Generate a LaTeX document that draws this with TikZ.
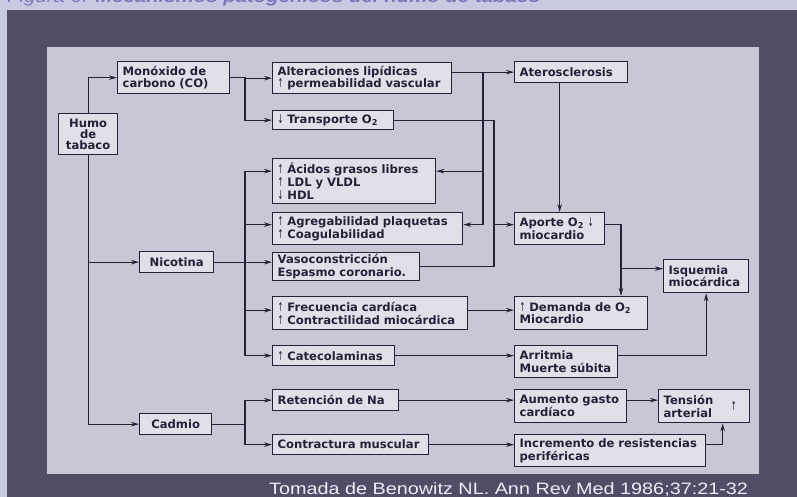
\documentclass[tikz,border=0pt]{standalone}
\usepackage{fontspec}
\usepackage{graphicx}
\setsansfont{DejaVu Sans}
\newfontfamily\arialfont{Liberation Sans}
\definecolor{lavanda}{RGB}{201,201,226}
\definecolor{panel}{RGB}{80,78,102}
\definecolor{gris}{RGB}{199,199,214}
\definecolor{cajafondo}{RGB}{224,224,233}
\definecolor{tinta}{RGB}{35,35,55}
\definecolor{titulo}{RGB}{120,120,190}
\definecolor{pie}{RGB}{236,236,243}
\newcommand{\subir}{\scalebox{0.6}[1.05]{\mdseries ↑}}
\newcommand{\bajar}{\scalebox{0.6}[1.05]{\mdseries ↓}}
\usetikzlibrary{arrows.meta}
\tikzset{>={Stealth[length=8pt,width=4.5pt]}}
\tikzset{caja/.style={draw=tinta, fill=cajafondo, line width=1.3pt, anchor=north west, align=left, inner xsep=5pt, inner ysep=1pt, text=tinta, font=\sffamily\bfseries\fontsize{11.6}{12.6}\selectfont},
conector/.style={draw=tinta, line width=1.1pt}}

\begin{document}
\begin{tikzpicture}[x=1pt,y=-1pt]
\useasboundingbox (0,0) rectangle (797,497);
\clip (0,0) rectangle (797,497);
\fill[lavanda] (0,0) rectangle (797,497);
\node[anchor=base west, inner sep=0, text=titulo] (titulo) at (7,2.5) {\scalebox{1.2}[1]{\arialfont\fontsize{17}{18}\selectfont\itshape Figura 6. \bfseries Mecanismos patogénicos del humo de tabaco}};
\fill[panel] (7,10) rectangle (797,497);
\fill[gris] (47,47) rectangle (759,474);

\node[caja, text width=49pt, minimum height=41pt, align=center, font=\sffamily\bfseries\fontsize{11.6}{11.2}\selectfont] (humo) at (58,113) {Humo\\de\\tabaco};
\node[caja, text width=102pt, minimum height=32pt] (mono) at (117,61) {Monóxido de\\carbono (CO)};
\node[caja, text width=64pt, minimum height=21pt, align=center] (nicot) at (139,251) {Nicotina};
\node[caja, text width=62pt, minimum height=21pt, align=center] (cadmio) at (139,413) {Cadmio};

\node[caja, text width=169pt, minimum height=31pt] (alter) at (272,62) {Alteraciones lipídicas\\\subir\ permeabilidad vascular};
\node[caja, text width=111pt, minimum height=19pt] (transp) at (272,110) {\bajar\ Transporte O\textsubscript{2}};
\node[caja, text width=153pt, minimum height=45pt] (acidos) at (272,158) {\subir\ Ácidos grasos libres\\\subir\ LDL y VLDL\\\bajar\ HDL};
\node[caja, text width=180pt, minimum height=32pt] (agreg) at (272,212) {\subir\ Agregabilidad plaquetas\\\subir\ Coagulabilidad};
\node[caja, text width=137pt, minimum height=28pt] (vaso) at (272,252) {Vasoconstricción\\Espasmo coronario.};
\node[caja, text width=185pt, minimum height=33pt] (frec) at (272,296) {\subir\ Frecuencia cardíaca\\\subir\ Contractilidad miocárdica};
\node[caja, text width=112pt, minimum height=20pt] (catec) at (272,345) {\subir\ Catecolaminas};
\node[caja, text width=116pt, minimum height=21pt] (reten) at (272,389) {Retención de Na};
\node[caja, text width=146pt, minimum height=20pt] (contr) at (272,434) {Contractura muscular};

\node[caja, text width=103pt, minimum height=21pt] (ateros) at (514,61) {Aterosclerosis};
\node[caja, text width=80pt, minimum height=32pt] (aporte) at (514,212) {Aporte O\textsubscript{2} \bajar\\miocardio};
\node[caja, text width=123pt, minimum height=33pt] (demanda) at (514,296) {\subir\ Demanda de O\textsubscript{2}\\Miocardio};
\node[caja, text width=93pt, minimum height=32pt] (arrit) at (514,345) {Arritmia\\Muerte súbita};
\node[caja, text width=102pt, minimum height=33pt] (aumento) at (514,389) {Aumento gasto\\cardíaco};
\node[caja, text width=181pt, minimum height=32pt] (increm) at (514,434) {Incremento de resistencias\\periféricas};
\node[caja, text width=75pt, minimum height=33pt] (isq) at (663,259) {Isquemia\\miocárdica};
\node[caja, text width=81pt, minimum height=33pt, label={[text=tinta, font=\sffamily\bfseries\fontsize{11.6}{12.6}\selectfont, anchor=east, xshift=-10pt]east:\subir}] (tension) at (658,389) {Tensión\\arterial};

\node[anchor=base west, inner sep=0, text=pie] (fuente) at (269,494) {\scalebox{1.2}[1]{\arialfont\fontsize{16.5}{18}\selectfont Tomada de Benowitz NL. Ann Rev Med 1986;37:21-32}};

\coordinate (busN) at (245,0);
\coordinate (busA) at (483,0);
\coordinate (busB) at (494,0);
\coordinate (busC) at (621,0);
\coordinate (acE) at ([yshift=10pt]acidos.east);
\coordinate (acW) at ([yshift=10pt]acidos.west);
\coordinate (agE) at ([yshift=4pt]agreg.east);
\coordinate (agW) at ([yshift=4pt]agreg.west);
\coordinate (apE) at ([yshift=4pt]aporte.east);
\coordinate (apW) at ([yshift=4pt]aporte.west);
\coordinate (frE) at ([yshift=3pt]frec.east);
\coordinate (frW) at ([yshift=3pt]frec.west);
\coordinate (isW) at ([yshift=7.5pt]isq.west);

\draw[conector, ->] (humo.north) |- (mono.west);
\draw[conector, ->] (humo.south) |- (nicot.west);
\draw[conector, ->] (humo.south) |- (cadmio.west);
\draw[conector, ->] (mono.east) -- (mono.east -| busN) |- (alter.west);
\draw[conector, ->] (mono.east -| busN) |- (transp.west);
\draw[conector, ->] (alter.east |- ateros.west) -- (ateros.west);
\draw[conector, ->] (busA |- ateros.west) |- (acE);
\draw[conector, ->] (busA |- ateros.west) |- (agE);
\draw[conector] (transp.east) -| (busB |- vaso.east) -- (vaso.east);
\draw[conector, ->] (busB |- apW) -- (apW);
\draw[conector, ->] (aporte.north |- ateros.south) -- (aporte.north);
\draw[conector, ->] (apE) -| (busC |- demanda.north);
\draw[conector, ->] (busC |- isW) -- (isW);
\draw[conector, ->] (nicot.east) -- (nicot.east -| vaso.west);
\draw[conector, ->] (nicot.east -| busN) |- (acW);
\draw[conector, ->] (nicot.east -| busN) |- (agW);
\draw[conector, ->] (nicot.east -| busN) |- (frW);
\draw[conector, ->] (nicot.east -| busN) |- (catec.west);
\draw[conector, ->] (frE) -- (frE -| demanda.west);
\draw[conector, ->] (catec.east) -- (catec.east -| arrit.west);
\draw[conector, ->] (arrit.east |- catec.east) -| (isq.south);
\draw[conector, ->] (cadmio.east) -- (cadmio.east -| busN) |- (reten.west);
\draw[conector, ->] (cadmio.east -| busN) |- (contr.west);
\draw[conector, ->] (reten.east) -- (reten.east -| aumento.west);
\draw[conector, ->] (aumento.east |- reten.east) -- (tension.west |- reten.east);
\draw[conector, ->] (contr.east) -- (contr.east -| increm.west);
\draw[conector, ->] (increm.east |- contr.east) -| ([xshift=18.5pt]tension.south);
\end{tikzpicture}
\end{document}
